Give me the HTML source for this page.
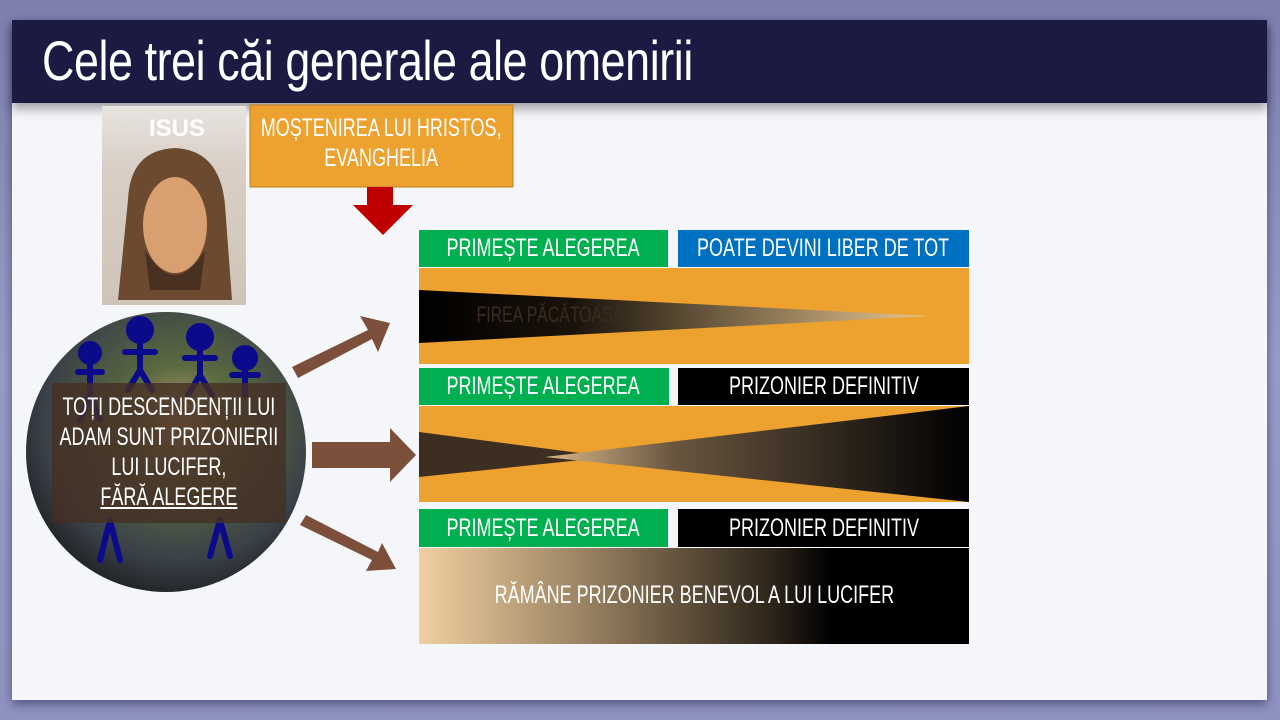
<!DOCTYPE html>
<html><head><meta charset="utf-8"><style>
html,body{margin:0;padding:0;}
body{width:1280px;height:720px;overflow:hidden;background:linear-gradient(180deg,#7d7fae 0%,#9a9cc8 50%,#8f93c0 100%);position:relative;font-family:"Liberation Sans Narrow","Liberation Sans",sans-serif;}
.slide{position:absolute;left:12px;top:20px;width:1255px;height:680px;background:#f5f6fa;box-shadow:0 4px 10px rgba(40,40,80,.6);}
.title{position:absolute;left:12px;top:20px;width:1255px;height:83px;background:#1b1a42;box-shadow:0 6px 10px rgba(0,0,0,.35);}
.title span{position:absolute;left:30px;top:8px;color:#fff;font-size:56px;transform:scaleX(.8);transform-origin:left;white-space:nowrap;letter-spacing:-0.5px;}
.t{position:absolute;color:#fff;font-size:25px;white-space:nowrap;display:flex;justify-content:center;}
.t span{display:inline-block;transform:scaleX(.72);text-align:center;flex:none;}
</style></head><body>
<div class="slide"></div>
<div class="title"><span>Cele trei căi generale ale omenirii</span></div>
<svg width="1280" height="720" style="position:absolute;left:0;top:0">
<defs>
<linearGradient id="g1" x1="0" x2="1"><stop offset="0" stop-color="#000"/><stop offset=".3" stop-color="#1a120a"/><stop offset="1" stop-color="#e8c890"/></linearGradient>
<linearGradient id="g2" x1="0" x2="1"><stop offset="0" stop-color="#d8b888"/><stop offset=".3" stop-color="#6a5640"/><stop offset="1" stop-color="#000"/></linearGradient>
<linearGradient id="g3" x1="0" x2="1"><stop offset="0" stop-color="#f0d0a0"/><stop offset=".3" stop-color="#9a8262"/><stop offset=".65" stop-color="#2a2218"/><stop offset=".75" stop-color="#000"/><stop offset="1" stop-color="#000"/></linearGradient>
<radialGradient id="earth" cx=".55" cy=".4" r=".7"><stop offset="0" stop-color="#c9a070"/><stop offset=".3" stop-color="#5a6a40"/><stop offset=".7" stop-color="#3a4048"/><stop offset="1" stop-color="#111"/></radialGradient>
<linearGradient id="jes" x1="0" y1="0" x2="0" y2="1"><stop offset="0" stop-color="#e8e4e0"/><stop offset=".3" stop-color="#d9cfc6"/><stop offset="1" stop-color="#cfc4b8"/></linearGradient>
</defs>
<rect x="102" y="106" width="144" height="199" fill="url(#jes)"/>
<path d="M128 200 Q130 150 175 148 Q220 150 225 205 L232 300 L118 300 Z" fill="#6b4a30"/>
<ellipse cx="175" cy="225" rx="32" ry="48" fill="#d8a070"/>
<path d="M145 250 Q175 300 205 250 L200 290 L150 290 Z" fill="#4a3020"/>
<text x="177" y="136" fill="#fff" font-size="24" font-weight="bold" text-anchor="middle" font-family="Liberation Sans">ISUS</text>
<rect x="250" y="105" width="263" height="82" fill="#eda22f" stroke="#c07f20"/>
<path d="M367 187 H393 V205 H413 L383 235 L353 205 H367 Z" fill="#c00000"/>
<rect x="419" y="230" width="249" height="37" fill="#00b050"/>
<rect x="678" y="230" width="291" height="37" fill="#0070c0"/>
<rect x="419" y="268" width="550" height="96" fill="#eda22f"/>
<path d="M419 290 L930 316 L419 343 Z" fill="url(#g1)"/>
<rect x="419" y="368" width="250" height="37" fill="#00b050"/>
<rect x="678" y="368" width="291" height="37" fill="#000"/>
<rect x="419" y="406" width="550" height="96" fill="#eda22f"/>
<path d="M419 432 L610 457 L419 477 Z" fill="#3d2e22"/>
<path d="M545 457 L969 406 L969 502 Z" fill="url(#g2)"/>
<rect x="419" y="509" width="249" height="38" fill="#00b050"/>
<rect x="678" y="509" width="291" height="38" fill="#000"/>
<rect x="419" y="548" width="550" height="96" fill="url(#g3)"/>
<circle cx="166" cy="452" r="140" fill="url(#earth)"/>
<g stroke="#0a0a8a" stroke-width="6" fill="#0a0a8a" stroke-linecap="round">
<circle cx="90" cy="353" r="9"/><path d="M90 360 V395 M78 372 L102 372 M90 395 L80 420 M90 395 L100 420" fill="none"/>
<circle cx="140" cy="330" r="11"/><path d="M140 340 V370 M125 352 L155 352 M140 370 L128 390 M140 370 L152 390" fill="none"/>
<circle cx="200" cy="337" r="11"/><path d="M200 345 V375 M185 358 L215 358 M200 375 L188 395 M200 375 L212 395" fill="none"/>
<circle cx="245" cy="358" r="10"/><path d="M245 365 V395 M232 375 L258 375" fill="none"/>
<path d="M110 520 L100 560 M110 520 L120 560 M220 520 L210 556 M220 520 L230 556" fill="none"/>
</g>
<rect x="52" y="383" width="234" height="140" fill="rgba(70,48,36,.82)"/>
<g fill="#7b4f3a">
<path d="M292 367 L368 330 L360 316 L390 323 L378 352 L372 339 L298 378 Z"/>
<path d="M312 442 H390 V428 L416 455 L390 482 V468 H312 Z"/>
<path d="M300 525 L372 560 L366 571 L396 569 L382 543 L378 552 L306 515 Z"/>
</g>
</svg>
<div class="t" style="left:250px;top:113px;width:263px;line-height:30px"><span>MOȘTENIREA LUI HRISTOS,<br>EVANGHELIA</span></div>
<div class="t" style="left:419px;top:234px;width:249px"><span>PRIMEȘTE ALEGEREA</span></div>
<div class="t" style="left:678px;top:234px;width:291px"><span>POATE DEVINI LIBER DE TOT</span></div>
<div class="t" style="left:440px;top:302px;width:220px;color:#3a2c22;font-size:22px"><span>FIREA PĂCĂTOASĂ</span></div>
<div class="t" style="left:419px;top:372px;width:249px"><span>PRIMEȘTE ALEGEREA</span></div>
<div class="t" style="left:678px;top:372px;width:291px"><span>PRIZONIER DEFINITIV</span></div>
<div class="t" style="left:419px;top:514px;width:249px"><span>PRIMEȘTE ALEGEREA</span></div>
<div class="t" style="left:678px;top:514px;width:291px"><span>PRIZONIER DEFINITIV</span></div>
<div class="t" style="left:419px;top:581px;width:550px"><span>RĂMÂNE PRIZONIER BENEVOL A LUI LUCIFER</span></div>
<div class="t" style="left:40px;top:392px;width:258px;line-height:30px"><span>TOȚI DESCENDENȚII LUI<br>ADAM SUNT PRIZONIERII<br>LUI LUCIFER,<br><u>FĂRĂ ALEGERE</u></span></div>
</body></html>
